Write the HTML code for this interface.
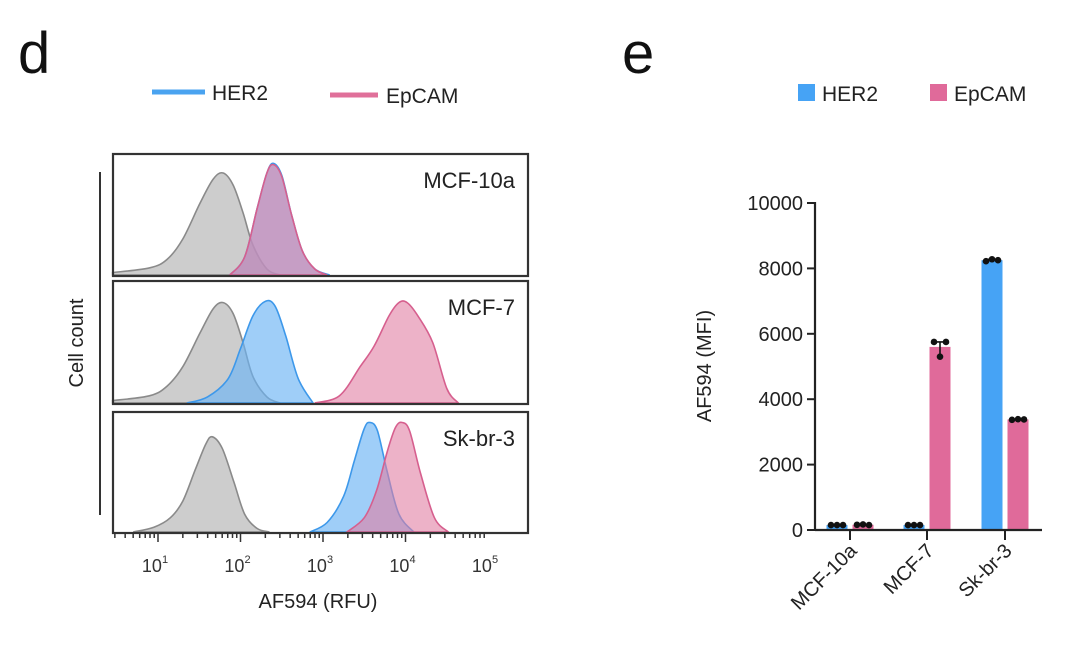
<!DOCTYPE html>
<html><head><meta charset="utf-8"><style>
body{margin:0;background:#fff;}
svg{display:block;font-family:"Liberation Sans",Arial,sans-serif;}
</style></head><body>
<svg id="fig" width="1080" height="649" viewBox="0 0 1080 649">
<text x="18" y="73" font-size="58" fill="#111">d</text>
<text x="622" y="73" font-size="58" fill="#111">e</text>
<g>
<line x1="152" y1="92" x2="205" y2="92" stroke="#4aa3f0" stroke-width="5"/>
<text x="212" y="100" font-size="21" fill="#222">HER2</text>
<line x1="330" y1="95" x2="378" y2="95" stroke="#e0709a" stroke-width="5"/>
<text x="386" y="103" font-size="21" fill="#222">EpCAM</text>
</g>
<g>
<rect x="798" y="84" width="17" height="17" fill="#46a3f5"/>
<text x="822" y="101" font-size="21" fill="#222">HER2</text>
<rect x="930" y="84" width="17" height="17" fill="#e06a9a"/>
<text x="954" y="101" font-size="21" fill="#222">EpCAM</text>
</g>
<line x1="100" y1="172" x2="100" y2="515" stroke="#333" stroke-width="2"/>
<text transform="translate(83,343) rotate(-90)" text-anchor="middle" font-size="20" fill="#222">Cell count</text>
<text x="318" y="608" text-anchor="middle" font-size="20" fill="#222">AF594 (RFU)</text>
<g id="hist"></g>
<g id="bars"></g>
</svg>
<script>
// ---------- Histogram data (log10 positions, relative heights) ----------
const panelNames = ["MCF-10a","MCF-7","Sk-br-3"];
const grayL = [[0.45,0.9,1.11,1.3,1.51,1.67,1.79,1.91,2.03,2.15,2.32,2.48],[0.45,0.9,1.11,1.3,1.51,1.67,1.79,1.91,2.03,2.15,2.32,2.48],[0.7,0.95,1.15,1.3,1.45,1.58,1.66,1.78,1.92,2.05,2.2,2.35]];
const grayH = [[0.02,0.06,0.13,0.3,0.6,0.8,0.85,0.75,0.52,0.25,0.05,0],[0.02,0.06,0.14,0.3,0.58,0.78,0.83,0.74,0.5,0.22,0.05,0],[0,0.04,0.12,0.26,0.52,0.74,0.8,0.7,0.42,0.15,0.03,0]];
const her2L = [[1.87,2.05,2.2,2.32,2.4,2.5,2.62,2.75,2.9,3.08],[1.35,1.6,1.85,2.0,2.15,2.3,2.42,2.55,2.7,2.88],[2.84,3.05,3.25,3.38,3.5,3.57,3.66,3.78,3.92,4.1]];
const her2H = [[0,0.15,0.55,0.85,0.93,0.83,0.5,0.2,0.05,0],[0,0.05,0.2,0.45,0.72,0.84,0.8,0.55,0.2,0],[0,0.08,0.3,0.6,0.87,0.92,0.85,0.5,0.15,0]];
const epcL = [[1.87,2.05,2.2,2.32,2.4,2.5,2.62,2.75,2.9,3.05],[2.9,3.2,3.45,3.62,3.8,3.92,4.02,4.15,4.33,4.5,4.64],[3.29,3.5,3.65,3.78,3.88,3.96,4.05,4.18,4.35,4.52]];
const epcH = [[0,0.15,0.55,0.85,0.92,0.82,0.5,0.2,0.05,0],[0,0.06,0.3,0.47,0.72,0.83,0.83,0.72,0.5,0.12,0],[0,0.12,0.35,0.68,0.88,0.92,0.85,0.5,0.12,0]];
const tickExp = [1,2,3,4,5];

// ---------- Bar data ----------
const cats = ["MCF-10a","MCF-7","Sk-br-3"];
const her2Vals = [150,150,8250];
const epcVals = [160,5600,3380];
const her2Pts = [[150,150,150],[150,150,150],[8220,8280,8250]];
const epcPts = [[160,170,150],[5750,5300,5750],[3370,3390,3380]];
const yTicks = [0,2000,4000,6000,8000,10000];

const NS="http://www.w3.org/2000/svg";
function mk(tag,attrs,parent){const e=document.createElementNS(NS,tag);for(const k in attrs)e.setAttribute(k,attrs[k]);parent.appendChild(e);return e;}
const hist=document.getElementById('hist');
const px0=113,px1=528;
const xLog=L=>158+(L-1)*82.5;
const panels=[[154,276],[281,404],[412,533]];
function smooth(pts){
  let d="M"+pts[0][0]+","+pts[0][1];
  for(let i=0;i<pts.length-1;i++){
    const p0=pts[Math.max(0,i-1)],p1=pts[i],p2=pts[i+1],p3=pts[Math.min(pts.length-1,i+2)];
    const c1=[p1[0]+(p2[0]-p0[0])/6,p1[1]+(p2[1]-p0[1])/6];
    const c2=[p2[0]-(p3[0]-p1[0])/6,p2[1]-(p3[1]-p1[1])/6];
    d+=` C${c1[0].toFixed(1)},${c1[1].toFixed(1)} ${c2[0].toFixed(1)},${c2[1].toFixed(1)} ${p2[0].toFixed(1)},${p2[1].toFixed(1)}`;
  }
  return d;
}
function curve(Ls,Hs,top,bot,fill,stroke,op,name){
  const h=bot-top-2;
  const pts=Ls.map((L,i)=>[xLog(L),bot-1-Hs[i]*h]);
  const base=bot-1;
  const d=smooth(pts);
  const p=mk('path',{d:d+` L${pts[pts.length-1][0]},${base} L${pts[0][0]},${base} Z`,fill:fill,'fill-opacity':op,stroke:stroke,'stroke-width':1.6},hist);
  
  
}
panels.forEach((pn,i)=>{
  const [t,b]=pn;
  curve(grayL[i],grayH[i],t,b,'#c4c4c4','#8a8a8a',0.85,'histogram-control-'+cats[i].toLowerCase());
  curve(her2L[i],her2H[i],t,b,'#6cb4f5','#3d98ea',0.65,'histogram-her2-'+cats[i].toLowerCase());
  curve(epcL[i],epcH[i],t,b,'#e17ea4','#d65f8e',0.6,'histogram-epcam-'+cats[i].toLowerCase());
  const r=mk('rect',{x:px0,y:t,width:px1-px0,height:b-t,fill:'none',stroke:'#333','stroke-width':2.2},hist);
  
  
  const tx=mk('text',{x:515,y:t+34,'text-anchor':'end','font-size':22,fill:'#222'},hist);
  tx.textContent=panelNames[i];
  
  
});
for(let e=0;e<5;e++){for(let m=1;m<10;m++){const L=e+Math.log10(m);const x=xLog(L);if(x<px0||x>px1)continue;
  const tk=mk('line',{x1:x,x2:x,y1:533,y2:m===1?542:538,stroke:'#333','stroke-width':1.5},hist);
  
  }}
tickExp.forEach(e=>{
  const t=mk('text',{x:xLog(e)-3,y:572,'text-anchor':'middle','font-size':18,fill:'#333'},hist);
  t.innerHTML='10<tspan dy="-9" font-size="11">'+e+'</tspan>';
  
  
});

// ---------- Bar chart ----------
const bars=document.getElementById('bars');
const ax0=815,ax1=1042,y0=530,y1=203;
const yS=v=>y0-(v/10000)*(y0-y1);
const catX=[850,927,1005];
const bw=21,off=13;
yTicks.forEach(v=>{
  const l=mk('line',{x1:ax0-8,x2:ax0,y1:yS(v),y2:yS(v),stroke:'#222','stroke-width':2},bars);
  
  
  const t=mk('text',{x:ax0-12,y:yS(v)+7,'text-anchor':'end','font-size':20,fill:'#222'},bars);
  t.textContent=v;
  
  
});
cats.forEach((c,i)=>{
  [[her2Vals,her2Pts,'#46a3f5','her2',-1],[epcVals,epcPts,'#e06a9a','epcam',1]].forEach(([vals,pts,col,nm,s])=>{
    const cx=catX[i]+s*off;
    const r=mk('rect',{x:cx-bw/2,y:yS(vals[i]),width:bw,height:y0-yS(vals[i]),fill:col},bars);
    
    
    const ps=pts[i];const mx=Math.max(...ps),mn=Math.min(...ps);
    if(mx-mn>50){
      const eb=mk('path',{d:`M${cx-5},${yS(mx)} H${cx+5} M${cx},${yS(mx)} V${yS(mn)}`,stroke:'#111','stroke-width':1.6,fill:'none'},bars);
      
      
    }
    ps.forEach((v,k)=>{
      const d=mk('circle',{cx:cx+(k-1)*6*(mx-mn>50&&k===1?0:1),cy:yS(v),r:3.3,fill:'#111'},bars);
      
      
    });
  });
  const tk=mk('line',{x1:catX[i],x2:catX[i],y1:y0,y2:y0+10,stroke:'#222','stroke-width':2},bars);
  
  
  const t=mk('text',{transform:`translate(${catX[i]+8},${y0+22}) rotate(-45)`,'text-anchor':'end','font-size':20,fill:'#222'},bars);
  t.textContent=c;
  
  
});
const ya=mk('line',{x1:ax0,x2:ax0,y1:y1-1,y2:y0+1,stroke:'#222','stroke-width':2.2},bars);


const xa=mk('line',{x1:ax0,x2:ax1,y1:y0,y2:y0,stroke:'#222','stroke-width':2.2},bars);


const yt=mk('text',{transform:'translate(711,366) rotate(-90)','text-anchor':'middle','font-size':20,fill:'#222'},bars);
yt.textContent='AF594 (MFI)';


</script>
</body></html>
